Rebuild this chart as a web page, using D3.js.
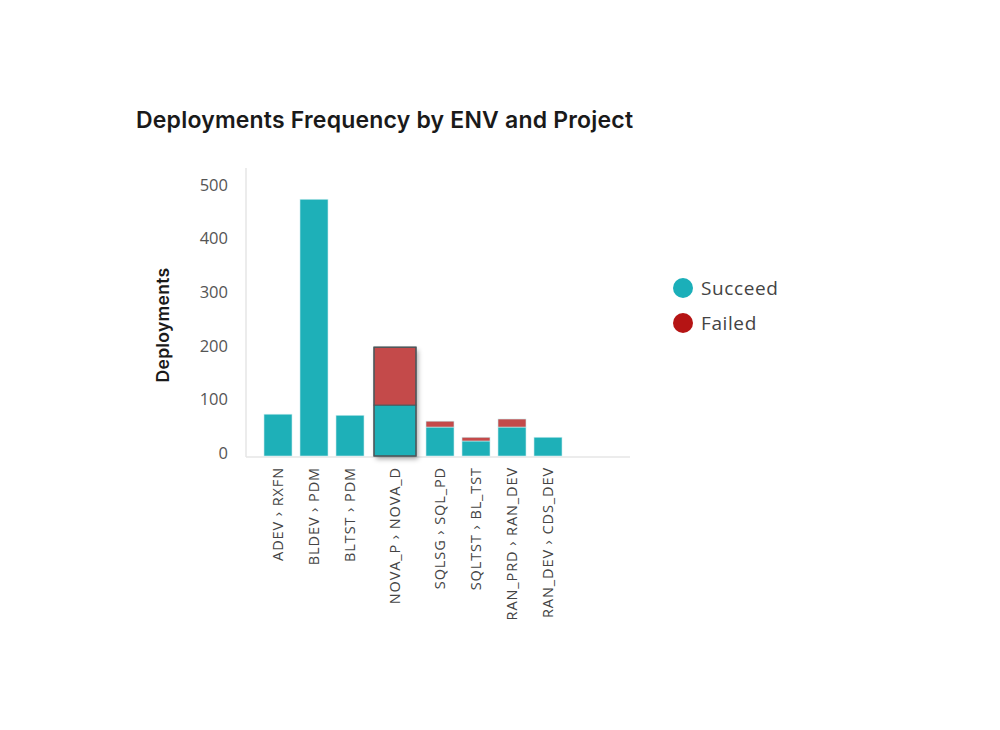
<!DOCTYPE html>
<html>
<head>
<meta charset="utf-8">
<script src="https://cdn.jsdelivr.net/npm/d3@7"></script>
<style>
  body { margin: 0; background: #fff; }
  svg { display: block; font-family: "Open Sans", sans-serif; }
</style>
</head>
<body>
<svg id="chart" width="1000" height="730"></svg>
<script>
const categories = ["ADEV › RXFN", "BLDEV › PDM", "BLTST › PDM", "NOVA_P › NOVA_D",
  "SQLSG › SQL_PD", "SQLTST › BL_TST", "RAN_PRD › RAN_DEV", "RAN_DEV › CDS_DEV"];
const succeeded = [78, 479, 76, 95, 54, 28, 54, 35];
const failed = [0, 0, 0, 108, 11, 7, 15, 0];
const yTicks = [0, 100, 200, 300, 400, 500];
const seriesNames = ["Succeed", "Failed"];
const highlighted = "NOVA_P › NOVA_D"; // hovered bar, drawn wider

const teal = "#1eb0b8", red = "#c44a4a";
const legendColors = ["#1bafb9", "#b51414"];

const svg = d3.select("#chart");

const plot = { left: 246, right: 630, top: 168, bottom: 456 };

// stack the two series
const rows = categories.map((c, i) => ({ cat: c, Succeed: succeeded[i], Failed: failed[i] }));
const stacked = d3.stack().keys(seriesNames)(rows);

// the hovered category takes 1.5 slots
const weights = categories.map(c => c === highlighted ? 1.5 : 1);
const offsets = d3.cumsum([0, ...weights]);
const x = d3.scaleLinear().domain([0, d3.sum(weights)]).range([260, 260 + 36 * d3.sum(weights)]);
const pad = 4 / 36;
const bx = i => x(offsets[i] + pad * weights[i]);
const bw = i => x(offsets[i] + weights[i] * (1 - pad)) - bx(i);

const y = d3.scaleLinear().domain([0, 500]).range([plot.bottom, 188]);

// title
svg.append("text")
  .attr("x", 136).attr("y", 128)
  .attr("font-family", "Inter, sans-serif")
  .attr("font-size", 23).attr("font-weight", 600).attr("fill", "#1a1a1a")
  .attr("letter-spacing", 0.2)
  .text("Deployments Frequency by ENV and Project");

// axis lines
svg.append("line")
  .attr("x1", plot.left).attr("x2", plot.left)
  .attr("y1", plot.top).attr("y2", plot.bottom + 1)
  .attr("stroke", "#e6e6e6").attr("stroke-width", 1.5);
svg.append("line")
  .attr("x1", plot.left).attr("x2", plot.right)
  .attr("y1", plot.bottom + 1).attr("y2", plot.bottom + 1)
  .attr("stroke", "#e6e6e6").attr("stroke-width", 1.5);

// y tick labels
svg.append("g").selectAll("text")
  .data(yTicks)
  .join("text")
  .attr("x", 228).attr("y", d => y(d) - 3)
  .attr("dy", "0.35em")
  .attr("text-anchor", "end")
  .attr("font-size", 16.5).attr("fill", "#555")
  .text(d => d);

// y axis title
svg.append("text")
  .attr("transform", "translate(169,325) rotate(-90)")
  .attr("text-anchor", "middle")
  .attr("font-family", "Inter, sans-serif")
  .attr("font-size", 17.5).attr("font-weight", 600).attr("fill", "#1a1a1a")
  .attr("letter-spacing", 0.3)
  .text("Deployments");

// shadow for the hovered bar
const defs = svg.append("defs");
const f = defs.append("filter").attr("id", "shadow")
  .attr("x", "-30%").attr("y", "-10%").attr("width", "160%").attr("height", "130%");
f.append("feDropShadow").attr("dx", 2).attr("dy", 3).attr("stdDeviation", 2.5)
  .attr("flood-color", "#000").attr("flood-opacity", 0.35);

// bars
const colors = { Succeed: teal, Failed: red };
const barG = svg.append("g");
const hiIdx = categories.indexOf(highlighted);

// shadow base under the hovered bar
barG.append("rect")
  .attr("x", bx(hiIdx)).attr("width", bw(hiIdx))
  .attr("y", y(succeeded[hiIdx] + failed[hiIdx]))
  .attr("height", y(0) - y(succeeded[hiIdx] + failed[hiIdx]))
  .attr("fill", teal).attr("filter", "url(#shadow)");

stacked.forEach(s => {
  barG.append("g").selectAll("rect")
    .data(s.filter(d => d[1] > d[0]))
    .join("rect")
    .attr("x", d => bx(categories.indexOf(d.data.cat)))
    .attr("width", d => bw(categories.indexOf(d.data.cat)))
    .attr("y", d => y(d[1]))
    .attr("height", d => y(d[0]) - y(d[1]))
    .attr("fill", colors[s.key])
    .attr("stroke", d => d.data.cat === highlighted ? "#4a5a5e" : "#c8ecee")
    .attr("stroke-width", d => d.data.cat === highlighted ? 1 : 0.6);
});

// outline around the whole hovered bar
barG.append("rect")
  .attr("x", bx(hiIdx)).attr("width", bw(hiIdx))
  .attr("y", y(succeeded[hiIdx] + failed[hiIdx]))
  .attr("height", y(0) - y(succeeded[hiIdx] + failed[hiIdx]))
  .attr("fill", "none").attr("stroke", "#4d5559").attr("stroke-width", 1.2);

// x labels, rotated
svg.append("g").selectAll("text")
  .data(categories)
  .join("text")
  .attr("transform", (d, i) => `translate(${bx(i) + bw(i) / 2 + 5},467) rotate(-90)`)
  .attr("text-anchor", "end")
  .attr("font-size", 14.5).attr("fill", "#444")
  .attr("letter-spacing", 0.9)
  .text(d => d);

// legend
const legend = svg.append("g").attr("transform", "translate(683,288)");
const li = legend.selectAll("g")
  .data(seriesNames)
  .join("g")
  .attr("transform", (d, i) => `translate(0,${i * 35})`);
li.append("circle").attr("r", 10).attr("fill", (d, i) => legendColors[i]);
li.append("text")
  .attr("x", 18).attr("dy", "0.35em")
  .attr("font-size", 19).attr("fill", "#444")
  .attr("letter-spacing", 0.6)
  .text(d => d);
</script>
</body>
</html>
